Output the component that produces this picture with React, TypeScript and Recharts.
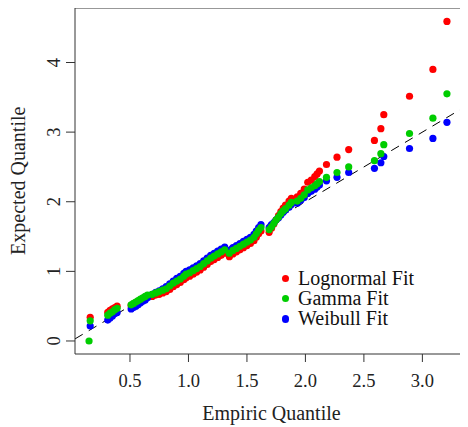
import React from "react";
import {
  ScatterChart,
  Scatter,
  XAxis,
  YAxis,
  ReferenceLine,
  Legend,
} from "recharts";

const empiric = [
  0.15, 0.16, 0.31, 0.33, 0.35, 0.37, 0.39, 0.51, 0.53, 0.55, 0.57, 0.59, 0.61, 0.63, 0.65,
  0.69, 0.72, 0.75, 0.78, 0.81, 0.84, 0.87, 0.9, 0.93, 0.96, 0.98, 1.01, 1.04, 1.07, 1.1,
  1.13, 1.16, 1.19, 1.22, 1.25, 1.28, 1.31, 1.35, 1.38, 1.41, 1.44, 1.47, 1.5, 1.53, 1.56,
  1.58, 1.6, 1.62, 1.69, 1.71, 1.73, 1.75, 1.77, 1.79, 1.81, 1.83, 1.86, 1.88, 1.93, 1.96,
  1.99, 2.02, 2.05, 2.08, 2.1, 2.12, 2.18, 2.27, 2.37, 2.59, 2.645, 2.67, 2.89, 3.09, 3.21,
];

const gammaQ = [
  0.0, 0.29, 0.37, 0.4, 0.42, 0.45, 0.47, 0.52, 0.54, 0.56, 0.58, 0.6, 0.62, 0.64, 0.66,
  0.67, 0.69, 0.71, 0.73, 0.75, 0.79, 0.83, 0.86, 0.89, 0.93, 0.96, 0.98, 1.01, 1.04, 1.07,
  1.11, 1.15, 1.19, 1.22, 1.25, 1.28, 1.31, 1.26, 1.3, 1.33, 1.36, 1.39, 1.42, 1.45, 1.49,
  1.54, 1.59, 1.63, 1.6, 1.64, 1.69, 1.74, 1.78, 1.83, 1.87, 1.9, 1.95, 1.99, 2.01, 2.05,
  2.1, 2.17, 2.2, 2.23, 2.26, 2.29, 2.35, 2.42, 2.5, 2.59, 2.69, 2.82, 2.98, 3.2, 3.55,
];

const lognormalQ = [
  null, 0.34, 0.41, 0.44, 0.46, 0.48, 0.5, 0.51, 0.53, 0.55, 0.57, 0.59, 0.61, 0.63, 0.65,
  0.64, 0.66, 0.67, 0.69, 0.71, 0.74, 0.78, 0.81, 0.84, 0.88, 0.91, 0.93, 0.96, 0.99, 1.02,
  1.06, 1.1, 1.14, 1.17, 1.2, 1.23, 1.26, 1.21, 1.25, 1.28, 1.31, 1.34, 1.37, 1.4, 1.44,
  1.49, 1.54, 1.58, 1.56, 1.62, 1.68, 1.74, 1.8, 1.86, 1.91, 1.95, 2.01, 2.05, 2.07, 2.12,
  2.18, 2.28, 2.31, 2.36, 2.4, 2.44, 2.535, 2.64, 2.75, 2.88, 3.05, 3.25, 3.515, 3.9, 4.59,
];

const weibullQ = [
  null, 0.215, 0.3, 0.33, 0.36, 0.39, 0.41, 0.46, 0.48, 0.5, 0.52, 0.55, 0.57, 0.59, 0.62,
  0.67, 0.7, 0.72, 0.75, 0.78, 0.82, 0.86, 0.9, 0.93, 0.97, 1.0, 1.02, 1.05, 1.08, 1.11,
  1.15, 1.19, 1.23, 1.26, 1.29, 1.32, 1.35, 1.3, 1.34, 1.37, 1.4, 1.43, 1.46, 1.49, 1.53,
  1.58, 1.63, 1.67, 1.63, 1.67, 1.7, 1.74, 1.77, 1.81, 1.85, 1.88, 1.92, 1.96, 1.98, 2.02,
  2.06, 2.12, 2.15, 2.18, 2.21, 2.24, 2.3, 2.35, 2.42, 2.48, 2.56, 2.65, 2.765, 2.91, 3.14,
];

const xTicks = [0.5, 1.0, 1.5, 2.0, 2.5, 3.0];
const yTicks = [0, 1, 2, 3, 4];
const xRange = [0.03, 3.39];
const yRange = [-0.187, 4.79];

const lognormal = { name: "Lognormal Fit", color: "#ff0000", values: lognormalQ };
const gamma = { name: "Gamma Fit", color: "#00cd00", values: gammaQ };
const weibull = { name: "Weibull Fit", color: "#0000ff", values: weibullQ };
const legendOrder = [lognormal, gamma, weibull];
const drawOrder = [lognormal, weibull, gamma];

const FONT = "'Liberation Serif', 'Times New Roman', serif";
const AXIS = "#333";

const toPoints = (values: (number | null)[]) =>
  empiric
    .map((x, i) => ({ x, y: values[i] }))
    .filter((p) => p.y !== null);

const dot = (color: string) => (props: any) =>
  <circle cx={props.cx} cy={props.cy} r={3.6} fill={color} />;

const XTick = (props: any) => (
  <text x={props.x} y={props.y + 25} textAnchor="middle" fontSize={18.5} fill="#222" fontFamily={FONT}>
    {props.payload.value.toFixed(1)}
  </text>
);

const YTick = (props: any) => (
  <text
    transform={`translate(${props.x},${props.y}) rotate(-90)`}
    textAnchor="middle"
    fontSize={18.5}
    fill="#222"
    fontFamily={FONT}
  >
    {props.payload.value}
  </text>
);

// y title, plus the top edge of the frame (drawn from the axis viewBox)
const YLabel = (p: any) => {
  const vb = p.viewBox;
  const top = vb.y + 0.5;
  return (
    <g>
      <path d={`M${vb.x + vb.width},${top}H468`} stroke={AXIS} strokeWidth={1.2} fill="none" />
      <text
        transform={`translate(24.5,${vb.y + vb.height / 2}) rotate(-90)`}
        textAnchor="middle"
        fontSize={20}
        fill="#222"
        fontFamily={FONT}
      >
        Expected Quantile
      </text>
    </g>
  );
};

const LegendBox = () => (
  <div style={{ fontFamily: FONT, fontSize: 20, lineHeight: "20.3px", color: "#111" }}>
    {legendOrder.map((s) => (
      <div key={s.name} style={{ position: "relative", paddingLeft: 18, whiteSpace: "nowrap" }}>
        <span
          style={{
            position: "absolute",
            left: 1.5,
            top: 7.2,
            width: 7.4,
            height: 7.4,
            borderRadius: "50%",
            background: s.color,
          }}
        />
        {s.name}
      </div>
    ))}
  </div>
);

export default function App() {
  return (
    <div style={{ margin: "-8px 0 0 -8px", width: 468, height: 427, overflow: "hidden", fontFamily: FONT, position: "relative" }}>
      <ScatterChart width={468} height={427} margin={{ top: 7.5, right: 0, left: 0, bottom: 0 }}>
        <XAxis
          dataKey="x"
          type="number"
          domain={xRange}
          ticks={xTicks}
          allowDataOverflow
          height={73}
          tickSize={8}
          tickMargin={0}
          stroke={AXIS}
          tick={XTick}
          label={(p: any) => (
            <text
              x={p.viewBox.x + p.viewBox.width / 2}
              y={420}
              textAnchor="middle"
              fontSize={20}
              fill="#222"
              fontFamily={FONT}
            >
              Empiric Quantile
            </text>
          )}
        />
        <YAxis
          dataKey="y"
          type="number"
          domain={yRange}
          ticks={yTicks}
          allowDataOverflow
          width={75}
          tickSize={9}
          tickMargin={6.5}
          stroke={AXIS}
          tick={YTick}
          label={YLabel}
        />
        <ReferenceLine
          segment={[
            { x: xRange[0], y: xRange[0] },
            { x: xRange[1], y: xRange[1] },
          ]}
          stroke="#000"
          strokeWidth={1}
          strokeDasharray="9 7"
        />
        {drawOrder.map((s) => (
          <Scatter
            key={s.name}
            name={s.name}
            data={toPoints(s.values)}
            fill={s.color}
            shape={dot(s.color)}
            isAnimationActive={false}
          />
        ))}
        <Legend
          layout="vertical"
          align="center"
          verticalAlign="middle"
          content={LegendBox}
          wrapperStyle={{ position: "absolute", left: 280, top: 267.5, width: "auto" }}
        />
      </ScatterChart>
      {/* frame top edge, also as an overlay in case the svg line is clipped */}
      <div style={{ position: "absolute", left: 75, top: 7, width: 393, height: 1, borderTop: `1px solid ${AXIS}`, zIndex: 5 }} />
    </div>
  );
}
